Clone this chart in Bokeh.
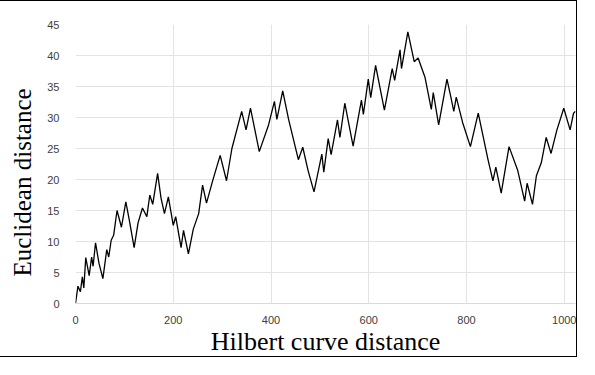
from bokeh.plotting import figure
from bokeh.models import Range1d, FixedTicker, InlineStyleSheet, Title
from bokeh.embed import file_html
from bokeh.resources import INLINE

# Vertices of the curve (Hilbert distance, Euclidean distance)
hilbert_d = [0, 5, 10, 14, 17, 21, 28, 33, 36, 41, 48, 56, 64, 68, 73, 78, 85, 94, 103, 110,
             120, 128, 137, 146, 152, 158, 168, 175, 182, 190, 200, 205, 216, 221, 231, 241, 252,
             260, 268, 281, 296, 309, 320, 340, 349, 358, 376, 395, 407, 412, 424, 436, 456, 465,
             476, 488, 504, 508, 517, 523, 536, 541, 551, 568, 585, 589, 599, 604, 614, 632, 648,
             653, 664, 667, 680, 693, 701, 715, 728, 732, 743, 760, 768, 774, 779, 792, 808, 824,
             844, 854, 860, 871, 887, 905, 919, 924, 935, 943, 953, 963, 973, 985, 999, 1012,
             1019, 1023]
euclid_d = [0, 2.8, 1.9, 4.3, 2.5, 7.4, 4.5, 7.5, 6.0, 9.8, 6.5, 4.0, 8.7, 7.5, 10.2, 11.0, 15.0,
            12.3, 16.4, 13.5, 9.0, 13.0, 15.4, 14.0, 17.5, 16.0, 21.0, 17.0, 14.5, 17.2, 12.6, 14.0,
            9.0, 11.8, 8.0, 12.0, 14.5, 19.1, 16.2, 19.9, 23.9, 19.8, 25.0, 31.0, 28.0, 31.5, 24.5,
            28.8, 32.6, 29.7, 34.3, 29.7, 23.2, 25.2, 21.4, 18.0, 24.1, 21.2, 26.6, 24.0, 29.6,
            26.8, 32.3, 25.4, 32.8, 30.5, 36.2, 33.2, 38.4, 31.2, 37.9, 36.0, 40.9, 37.9, 43.8,
            39.0, 39.6, 36.5, 31.3, 34.0, 28.8, 36.2, 33.3, 31.0, 33.3, 29.2, 25.3, 30.7, 23.2,
            19.8, 22.0, 17.8, 25.3, 21.4, 16.5, 19.4, 16.0, 20.6, 22.7, 26.8, 24.2, 28.0, 31.5,
            28.0, 30.7, 31.0]

x_ticks = [0, 200, 400, 600, 800, 1000]
y_ticks = [0, 5, 10, 15, 20, 25, 30, 35, 40, 45]
x_title = "Hilbert curve distance"
y_title = "Euclidean distance"

p = figure(width=580, height=357, output_backend="svg", toolbar_location=None,
           x_range=Range1d(0, 1023), y_range=Range1d(0, 45),
           min_border_left=69, min_border_right=3, min_border_top=23, min_border_bottom=52)
p.stylesheets.append(InlineStyleSheet(css=":host { border: 1px solid #000; margin-left: -3px; }"))
p.outline_line_color = None
p.background_fill_color = "white"

p.line(hilbert_d, euclid_d, line_color="black", line_width=1.3)

for ax in (p.xaxis[0], p.yaxis[0]):
    ax.major_tick_line_color = None
    ax.minor_tick_line_color = None
    ax.major_label_text_font = "Liberation Sans"
    ax.major_label_text_font_size = "11px"
    ax.major_label_text_color = "#404040"

p.xaxis.ticker = FixedTicker(ticks=x_ticks)
p.yaxis.ticker = FixedTicker(ticks=y_ticks)
p.xaxis.axis_line_color = "#d9d9d9"
p.yaxis.axis_line_color = None
p.xaxis.major_label_standoff = 6
p.yaxis.major_label_standoff = 10

p.xaxis.axis_label = x_title
p.xaxis.axis_label_text_font = "Liberation Serif"
p.xaxis.axis_label_text_font_size = "26px"
p.xaxis.axis_label_text_font_style = "normal"
p.xaxis.axis_label_text_color = "black"
p.xaxis.axis_label_standoff = 0

p.add_layout(Title(text=y_title, align="left", offset=27, standoff=17,
                   text_font="Liberation Serif", text_font_size="25px",
                   text_font_style="normal", text_color="black"), "left")

p.xgrid.ticker = FixedTicker(ticks=x_ticks)
p.ygrid.ticker = FixedTicker(ticks=y_ticks)
p.xgrid.grid_line_color = "#e3e3e3"
p.ygrid.grid_line_color = "#e3e3e3"

open("out.html", "w").write(file_html(p, INLINE))
